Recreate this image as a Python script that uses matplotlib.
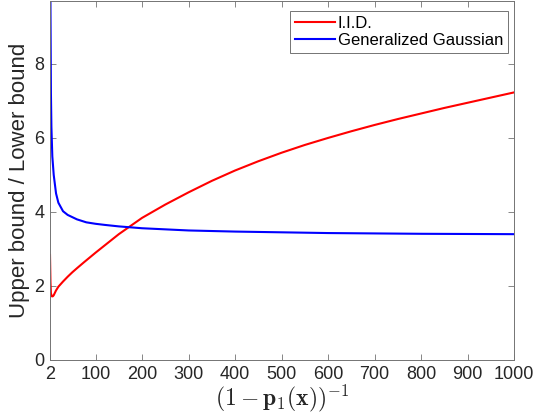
import matplotlib
matplotlib.use("Agg")
import matplotlib.pyplot as plt

# values
iid_x = [2, 3, 4, 6, 8, 10, 15, 20, 30, 40, 50, 60, 75, 100, 125, 150, 175, 200,
         250, 300, 350, 400, 450, 500, 550, 600, 650, 700, 750, 800, 850, 900, 950, 1000]
iid_y = [2.84, 2.1, 1.8, 1.72, 1.72, 1.75, 1.88, 1.98, 2.12, 2.25, 2.37, 2.48, 2.64, 2.9,
         3.15, 3.4, 3.62, 3.84, 4.2, 4.53, 4.84, 5.12, 5.37, 5.6, 5.81, 6.0, 6.18, 6.35,
         6.51, 6.66, 6.81, 6.95, 7.09, 7.23]

gg_x = [2, 2.5, 3, 4, 5, 7, 10, 15, 20, 30, 40, 60, 80, 100, 120, 150, 200,
        300, 400, 500, 600, 700, 800, 900, 1000]
gg_y = [16.0, 11.5, 9.5, 7.2, 6.3, 5.5, 5.0, 4.5, 4.25, 4.02, 3.92, 3.8, 3.72, 3.68, 3.65,
        3.61, 3.56, 3.5, 3.47, 3.45, 3.43, 3.42, 3.41, 3.405, 3.40]

x_ticks = [2, 100, 200, 300, 400, 500, 600, 700, 800, 900, 1000]
y_ticks = [0, 2, 4, 6, 8]

plt.rcParams["font.family"] = ["Liberation Sans", "DejaVu Sans"]
plt.rcParams["mathtext.fontset"] = "cm"

fig = plt.figure(figsize=(5.35, 4.18), dpi=100)
ax = fig.add_axes([50 / 535, 1 - 360 / 418, 464 / 535, 359 / 418])

ax.plot(iid_x, iid_y, color=(1, 0, 0), lw=1.5, label="I.I.D.")
ax.plot(gg_x, gg_y, color=(0, 0, 1), lw=1.5, label="Generalized Gaussian")

ax.set_xlim(2, 1000)
ax.set_ylim(0, 9.7)
ax.set_xticks(x_ticks)
ax.set_yticks(y_ticks)
ax.tick_params(direction="in", top=True, right=True, length=4, width=0.6,
               color="0.45", labelsize=13, labelcolor="#262626", pad=4)
for sp in ax.spines.values():
    sp.set_color("0.45")
    sp.set_linewidth(0.7)

ax.set_ylabel("Upper bound / Lower bound", fontsize=16, color="#262626", labelpad=3)
ax.set_xlabel(r"$\mathbf{(1-p_1(x))^{-1}}$", fontsize=17, color="#262626", labelpad=0)

leg = ax.legend(loc="upper right", bbox_to_anchor=(0.987, 0.972), fontsize=12,
                handlelength=2.4, handletextpad=0.15, borderpad=0.3,
                labelspacing=0.1, fancybox=False, framealpha=1, borderaxespad=0)
leg.get_frame().set_edgecolor("0.45")
leg.get_frame().set_linewidth(0.7)

fig.savefig("out.png", dpi=100)
